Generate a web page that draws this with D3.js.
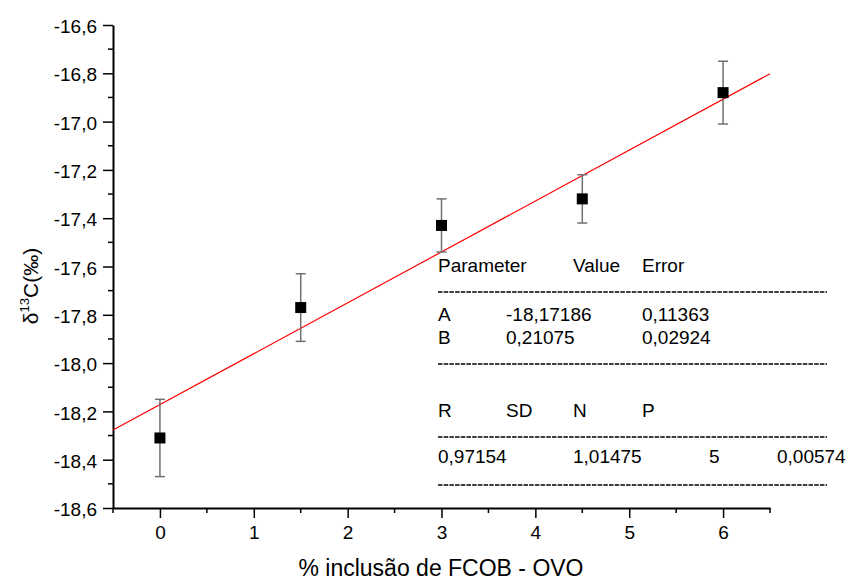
<!DOCTYPE html>
<html><head><meta charset="utf-8">
<script src="https://cdn.jsdelivr.net/npm/d3@7"></script>
<style>body{margin:0;background:#fff;} text{font-family:Arial,"Liberation Sans",sans-serif;}</style>
</head><body>
<svg id="c" width="849" height="581"></svg>
<script>
const xs = [0, 1.5, 3, 4.5, 6];
const ys = [-18.31, -17.77, -17.43, -17.32, -16.88];
const errs = [0.16, 0.14, 0.11, 0.10, 0.13];
const fitA = -18.17186, fitB = 0.21075;
const xTicks = [0, 1, 2, 3, 4, 5, 6];
const yTicks = [-16.6, -16.8, -17.0, -17.2, -17.4, -17.6, -17.8, -18.0, -18.2, -18.4, -18.6];
const tableRows = [
  [["Parameter", 0], ["Value", 2], ["Error", 3]],
  "dash",
  [["A", 0], ["-18,17186", 1], ["0,11363", 3]],
  [["B", 0], ["0,21075", 1], ["0,02924", 3]],
  "dash",
  null,
  [["R", 0], ["SD", 1], ["N", 2], ["P", 3]],
  "dash",
  [["0,97154", 0], ["1,01475", 2], ["5", 4], ["0,00574", 5]],
  "dash"
];

const svg = d3.select("#c");
const x = d3.scaleLinear().domain([-0.5, 6.5]).range([113, 770]);
const y = d3.scaleLinear().domain([-18.6, -16.6]).range([508, 25]);
const fmt = v => d3.format(".1f")(v).replace(".", ",").replace("−", "-");

// axes
const xAxis = d3.axisBottom(x).tickValues(xTicks).tickSize(10).tickSizeOuter(0).tickFormat(d => d);
const gx = svg.append("g").attr("transform", "translate(0,508)").call(xAxis);
const xMinor = d3.range(-0.5, 6.51, 1);
gx.selectAll(".minor").data(xMinor).enter().append("line").attr("class", "minor")
  .attr("x1", d => x(d)).attr("x2", d => x(d)).attr("y1", 0).attr("y2", 5).attr("stroke", "#000").attr("stroke-width", 1.5);

const yAxis = d3.axisLeft(y).tickValues(yTicks).tickSize(10).tickSizeOuter(0).tickFormat(fmt);
const gy = svg.append("g").attr("transform", "translate(113,0)").call(yAxis);
const yMinor = d3.range(-18.5, -16.6, 0.2);
gy.selectAll(".minor").data(yMinor).enter().append("line").attr("class", "minor")
  .attr("y1", d => y(d)).attr("y2", d => y(d)).attr("x1", 0).attr("x2", -5).attr("stroke", "#000").attr("stroke-width", 1.5);

[gx, gy].forEach(g => {
  g.select(".domain").attr("stroke-width", 2).attr("stroke", "#000");
  g.selectAll(".tick line").attr("stroke-width", 1.5);
  g.selectAll(".tick text").attr("font-size", 19).attr("fill", "#000").attr("font-family", "Arial, 'Liberation Sans', sans-serif");
});
gx.selectAll(".tick text").attr("dy", "0.35em").attr("y", 24);
gy.selectAll(".tick text").attr("x", -16).attr("dy", "0.4em");

// fit line
svg.append("line")
  .attr("x1", x(-0.5)).attr("y1", y(fitA + fitB * -0.5))
  .attr("x2", x(6.5)).attr("y2", y(fitA + fitB * 6.5))
  .attr("stroke", "#ff0000").attr("stroke-width", 1.2);

// error bars
const pts = xs.map((v, i) => ({x: v, y: ys[i], e: errs[i]}));
const eb = svg.append("g").attr("stroke", "#707070").attr("stroke-width", 1.5);
pts.forEach(p => {
  eb.append("line").attr("x1", x(p.x)).attr("x2", x(p.x)).attr("y1", y(p.y + p.e)).attr("y2", y(p.y - p.e));
  [p.y + p.e, p.y - p.e].forEach(v => eb.append("line").attr("x1", x(p.x) - 5).attr("x2", x(p.x) + 5).attr("y1", y(v)).attr("y2", y(v)));
});
svg.append("g").selectAll("rect").data(pts).enter().append("rect")
  .attr("x", d => x(d.x) - 5.5).attr("y", d => y(d.y) - 5.5).attr("width", 11).attr("height", 11).attr("fill", "#000");

// table
const colX = [438, 506, 573, 642, 709, 777];
const rowY = [272, 292, 321, 344, 364, 390, 417, 437, 463, 485];
const tg = svg.append("g");
tableRows.forEach((r, i) => {
  if (r === "dash") {
    tg.append("line").attr("x1", 438).attr("x2", 827).attr("y1", rowY[i]).attr("y2", rowY[i])
      .attr("stroke", "#000").attr("stroke-width", 1.4).attr("stroke-dasharray", "4.5,1.2");
  } else if (r) {
    r.forEach(([t, c]) => tg.append("text").attr("x", colX[c]).attr("y", rowY[i]).attr("font-size", 19).attr("fill", "#000").text(t));
  }
});

// titles
svg.append("text").attr("x", 441).attr("y", 576).attr("text-anchor", "middle").attr("font-size", 23).text("% inclusão de FCOB - OVO");
const yt = svg.append("text").attr("transform", "translate(38,286) rotate(-90)").attr("text-anchor", "middle").attr("font-size", 21);
yt.append("tspan").text("δ");
yt.append("tspan").attr("font-size", 13).attr("dy", -9).text("13");
yt.append("tspan").attr("dy", 9).text("C(‰)");
</script>
</body></html>
